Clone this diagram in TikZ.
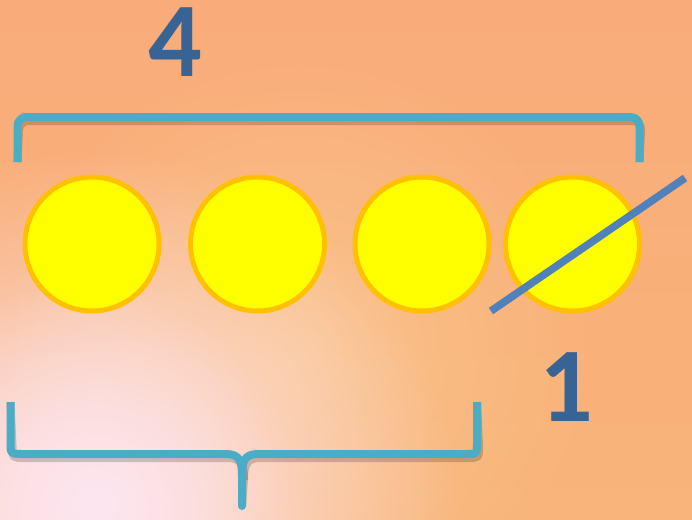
\documentclass[tikz,border=0pt]{standalone}
\usepackage{fontspec}
\setmainfont{Carlito}
\usetikzlibrary{fadings}
\definecolor{bgtop}{HTML}{F9AC7A}
\definecolor{bgright}{HTML}{F8B479}
\definecolor{bgmid}{HTML}{FBC890}
\definecolor{glow}{HTML}{FDE6F0}
\definecolor{brk}{HTML}{4BACC6}
\definecolor{strike}{HTML}{4F81BD}
\definecolor{num}{HTML}{386395}
\definecolor{ring}{HTML}{FFC000}
\definecolor{ball}{HTML}{FFFF00}
\tikzfading[name=glowfade, inner color=transparent!0, outer color=transparent!100]
\tikzset{
  ballnode/.style={circle, draw=ring, fill=ball, line width=5pt, minimum size=134pt, inner sep=0pt},
  bracket/.style={draw=brk, line width=8pt, line join=round},
  shadowline/.style={draw=black, opacity=0.18, line width=8pt, line join=round},
  numlabel/.style={text=num, font=\fontsize{106}{106}\selectfont\bfseries, inner sep=0pt, text height=68pt, text depth=0pt, anchor=south}
}
\begin{document}
\begin{tikzpicture}[x=1pt,y=-1pt]
\useasboundingbox (0,0) rectangle (692,519);
% background
\shade[top color=bgtop, bottom color=bgright] (0,0) rectangle (692,519);
\fill[bgmid, path fading=glowfade, opacity=0.8] (300,350) circle (300);
\fill[glow, path fading=glowfade] (100,510) circle (360);
\fill[glow, path fading=glowfade, opacity=0.8] (80,500) circle (220);
% labels
\node[numlabel] (four) at (175.5,77) {4};
\node[numlabel] (one) at (566,422) {1};
% top bracket
\coordinate (tl) at (17.5,162);
\coordinate (tr) at (639.5,162);
\draw[shadowline, rounded corners=9pt, shift={(2,4)}] (tl) -- (17.5,117) -- (639.5,117) -- (tr);
\draw[bracket, rounded corners=9pt] (tl) -- (17.5,117) -- (639.5,117) -- (tr);
% circles
\node[ballnode] (c1) at (92,244) {};
\node[ballnode] (c2) at (257.5,244) {};
\node[ballnode] (c3) at (422,244) {};
\node[ballnode] (c4) at (572.5,244) {};
% strike
\coordinate (s1) at (491,311);
\coordinate (s2) at (685,178);
\draw[draw=black, opacity=0.2, line width=7.5pt, shift={(2,4)}] (s1) -- (s2);
\draw[draw=strike, line width=7.5pt] (s1) -- (s2);
% bottom brace
\coordinate (bl) at (10.5,402);
\coordinate (br) at (477,402);
\coordinate (tip) at (242,506);
\begin{scope}[shift={(2,4)}]
\draw[shadowline] (bl) -- (10.5,442) .. controls (10.5,454) .. (22,454) -- (226,454) .. controls (240,454) and (242,462) .. (242,476) -- (tip);
\draw[shadowline] (br) -- (477,442) .. controls (477,454) .. (465,454) -- (258,454) .. controls (244,454) and (242,462) .. (242,476);
\end{scope}
\draw[bracket] (bl) -- (10.5,442) .. controls (10.5,454) .. (22,454) -- (226,454) .. controls (240,454) and (242,462) .. (242,476) -- (tip);
\draw[bracket] (br) -- (477,442) .. controls (477,454) .. (465,454) -- (258,454) .. controls (244,454) and (242,462) .. (242,476);
\draw[bracket, line cap=round] (242,490) -- (tip);
\end{tikzpicture}
\end{document}
